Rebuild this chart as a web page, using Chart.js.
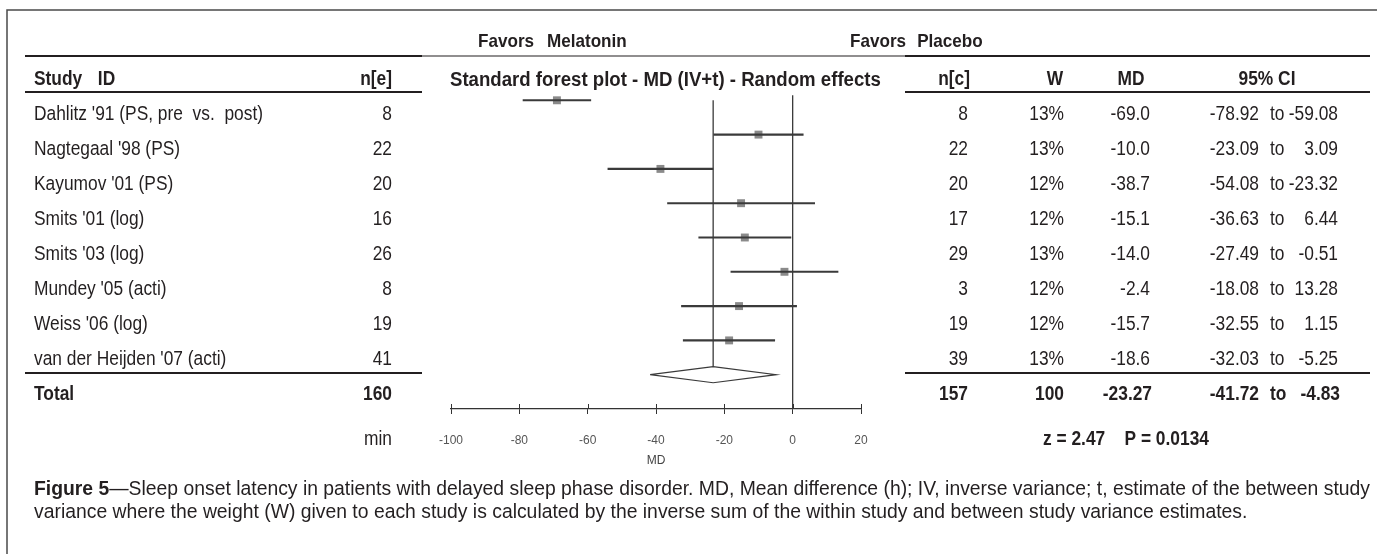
<!DOCTYPE html>
<html><head><meta charset="utf-8">
<script src="https://cdn.jsdelivr.net/npm/chart.js@4.4.1/dist/chart.umd.min.js"></script>
<style>html,body{margin:0;padding:0;background:#fff;} canvas{display:block;}</style>
</head><body>
<canvas id="c" width="1386" height="554"></canvas>
<script>
// ---------- data ----------
const studies = ["Dahlitz '91 (PS, pre  vs.  post)", "Nagtegaal '98 (PS)", "Kayumov '01 (PS)", "Smits '01 (log)", "Smits '03 (log)", "Mundey '05 (acti)", "Weiss '06 (log)", "van der Heijden '07 (acti)"];
const nE = [8, 22, 20, 16, 26, 8, 19, 41];
const nC = [8, 22, 20, 17, 29, 3, 19, 39];
const weights = [13, 13, 12, 12, 13, 12, 12, 13];
const md = [-69.0, -10.0, -38.7, -15.1, -14.0, -2.4, -15.7, -18.6];
const ciLow = [-78.92, -23.09, -54.08, -36.63, -27.49, -18.08, -32.55, -32.03];
const ciHigh = [-59.08, 3.09, -23.32, 6.44, -0.51, 13.28, 1.15, -5.25];
const totalNE = 160, totalNC = 157, totalW = 100;
const pooledMD = -23.27, pooledLow = -41.72, pooledHigh = -4.83;
const zValue = 2.47, pValue = 0.0134;
const xTicks = [-100, -80, -60, -40, -20, 0, 20];

// ---------- helpers ----------
const FONT = "'Liberation Sans', Arial, sans-serif";
const INK = '#231f20';
function drawText(ctx, s, x, y, o) {
  o = o || {};
  const size = o.size || 19.3, sx = o.sx || 0.9;
  ctx.save();
  ctx.translate(x, y);
  ctx.scale(sx, 1);
  ctx.font = (o.bold ? 'bold ' : '') + size + 'px ' + FONT;
  ctx.fillStyle = o.color || INK;
  ctx.textAlign = o.align || 'left';
  ctx.textBaseline = 'middle';
  if (o.ws !== undefined && 'wordSpacing' in ctx) ctx.wordSpacing = o.ws + 'px';
  ctx.fillText(s, 0, 0);
  ctx.restore();
}
function hline(ctx, x1, x2, y, w, c) {
  ctx.save(); ctx.beginPath(); ctx.strokeStyle = c || INK; ctx.lineWidth = w;
  ctx.moveTo(x1, y); ctx.lineTo(x2, y); ctx.stroke(); ctx.restore();
}

const rowY = i => 115 + 35 * i;
const DIAMOND_H = 0.235;
const nRows = studies.length;

const tablePlugin = {
  id: 'table',
  beforeDraw(chart) {
    const ctx = chart.ctx;
    ctx.save(); ctx.fillStyle = '#fff'; ctx.fillRect(0, 0, chart.width, chart.height); ctx.restore();
  },
  afterDraw(chart) {
    const ctx = chart.ctx;
    const xs = chart.scales.x, area = chart.chartArea;
    // frame
    ctx.save(); ctx.strokeStyle = '#4a4a4a'; ctx.lineWidth = 1.5; ctx.beginPath();
    ctx.moveTo(7, 554); ctx.lineTo(7, 10); ctx.lineTo(1377, 10); ctx.stroke(); ctx.restore();
    // upward half of tick marks
    ctx.save(); ctx.strokeStyle = '#333'; ctx.lineWidth = 1; ctx.beginPath();
    xs.ticks.forEach(t => { const px = Math.round(xs.getPixelForValue(t.value)) + 0.5; ctx.moveTo(px, area.bottom - 5); ctx.lineTo(px, area.bottom); });
    ctx.stroke(); ctx.restore();

    // rules
    hline(ctx, 422, 905, 56, 1.2);
    hline(ctx, 25, 422, 56, 2);
    hline(ctx, 905, 1370, 56, 2);
    hline(ctx, 25, 422, 92, 2);
    hline(ctx, 905, 1370, 92, 2);
    hline(ctx, 25, 422, 373, 2);
    hline(ctx, 905, 1370, 373, 2);

    // header
    drawText(ctx, 'Favors Melatonin', 478, 42, {bold: true, size: 19, ws: 9});
    drawText(ctx, 'Favors Placebo', 850, 42, {bold: true, size: 19, ws: 7});
    drawText(ctx, 'Study ID', 34, 80, {bold: true, ws: 12});
    drawText(ctx, 'n[e]', 392, 80, {bold: true, align: 'right'});
    drawText(ctx, 'Standard forest plot - MD (IV+t) - Random effects', 450, 80, {bold: true, size: 20.7});
    drawText(ctx, 'n[c]', 970, 80, {bold: true, align: 'right'});
    drawText(ctx, 'W', 1055, 80, {bold: true, align: 'center'});
    drawText(ctx, 'MD', 1131, 80, {bold: true, align: 'center'});
    drawText(ctx, '95% CI', 1267, 80, {bold: true, align: 'center'});

    // rows
    for (let i = 0; i < nRows; i++) {
      const y = rowY(i);
      drawText(ctx, studies[i], 34, y);
      drawText(ctx, String(nE[i]), 392, y, {align: 'right'});
      drawText(ctx, String(nC[i]), 968, y, {align: 'right'});
      drawText(ctx, weights[i] + '%', 1064, y, {align: 'right'});
      drawText(ctx, md[i].toFixed(1), 1150, y, {align: 'right'});
      drawText(ctx, ciLow[i].toFixed(2), 1259, y, {align: 'right'});
      drawText(ctx, 'to', 1270, y);
      drawText(ctx, ciHigh[i].toFixed(2), 1338, y, {align: 'right'});
    }
    // total
    const ty = rowY(nRows);
    drawText(ctx, 'Total', 34, ty, {bold: true});
    drawText(ctx, String(totalNE), 392, ty, {bold: true, align: 'right'});
    drawText(ctx, String(totalNC), 968, ty, {bold: true, align: 'right'});
    drawText(ctx, String(totalW), 1064, ty, {bold: true, align: 'right'});
    drawText(ctx, pooledMD.toFixed(2), 1152, ty, {bold: true, align: 'right'});
    drawText(ctx, pooledLow.toFixed(2), 1259, ty, {bold: true, align: 'right'});
    drawText(ctx, 'to', 1270, ty, {bold: true});
    drawText(ctx, pooledHigh.toFixed(2), 1340, ty, {bold: true, align: 'right'});

    // axis-line row
    const ay = 440;
    drawText(ctx, 'min', 392, ay, {align: 'right'});
    drawText(ctx, 'z = ' + zValue.toFixed(2) + '    P = ' + pValue.toFixed(4), 1043, ay, {bold: true});

    // caption
    const capSize = 19.3;
    const bold = 'Figure 5';
    const rest1 = '\u2014Sleep onset latency in patients with delayed sleep phase disorder. MD, Mean difference (h); IV, inverse variance; t, estimate of the between study';
    const line2 = 'variance where the weight (W) given to each study is calculated by the inverse sum of the within study and between study variance estimates.';
    ctx.save();
    ctx.font = 'bold ' + capSize + 'px ' + FONT; const wb = ctx.measureText(bold).width;
    ctx.font = capSize + 'px ' + FONT; const wr = ctx.measureText(rest1).width;
    ctx.restore();
    const sx = 1336 / (wb + wr);
    drawText(ctx, bold, 34, 490, {bold: true, size: capSize, sx: sx});
    drawText(ctx, rest1, 34 + wb * sx, 490, {size: capSize, sx: sx});
    drawText(ctx, line2, 34, 513, {size: capSize, sx: sx});
  }
};

// ---------- chart ----------
const ciData = studies.map((s, i) => ({y: i, x: [ciLow[i], ciHigh[i]]}));
const pointData = studies.map((s, i) => ({x: md[i], y: i}));
const diamond = [
  {x: pooledLow, y: nRows}, {x: pooledMD, y: nRows - DIAMOND_H}, {x: pooledHigh, y: nRows},
  {x: pooledMD, y: nRows + DIAMOND_H}, {x: pooledLow, y: nRows}
];

new Chart(document.getElementById('c'), {
  data: {
    datasets: [
      {type: 'bar', indexAxis: 'y', data: ciData, backgroundColor: '#3a3a3a', barThickness: 1.4, borderWidth: 0},
      {type: 'line', data: [{x: 0, y: -0.15}, {x: 0, y: nRows + 1}], borderColor: '#3a3a3a', borderWidth: 1.3, pointRadius: 0, fill: false, tension: 0},
      {type: 'line', data: [{x: pooledMD, y: 0}, {x: pooledMD, y: nRows - DIAMOND_H}], borderColor: '#3a3a3a', borderWidth: 1.3, pointRadius: 0, fill: false, tension: 0},
      {type: 'line', data: diamond, borderColor: '#3a3a3a', borderWidth: 1.2, pointRadius: 0, fill: false, tension: 0, backgroundColor: '#fff'},
      {type: 'scatter', data: pointData, pointStyle: 'rect', pointRadius: 5.6, backgroundColor: '#8a8a8a', borderWidth: 0}
    ]
  },
  options: {
    responsive: false,
    animation: false,
    devicePixelRatio: 1,
    layout: {padding: {left: 451, right: 525, top: 66, bottom: 85}},
    plugins: {legend: {display: false}, tooltip: {enabled: false}},
    scales: {
      x: {
        type: 'linear', min: -100, max: 20, offset: false,
        afterBuildTicks: s => { s.ticks = xTicks.map(v => ({value: v})); },
        afterFit: s => { s.height = 60; },
        grid: {drawOnChartArea: false, drawTicks: true, tickLength: 5, color: '#333', lineWidth: 1, offset: false},
        border: {display: true, color: '#333', width: 1.2},
        ticks: {color: '#555', font: {family: "'Liberation Sans Narrow', 'Liberation Sans', Arial", size: 12}, padding: 19, maxRotation: 0},
        title: {display: true, text: 'MD', color: '#444', font: {family: "'Liberation Sans Narrow', 'Liberation Sans', Arial", size: 12}, padding: {top: 0, bottom: 1}}
      },
      y: {type: 'linear', display: false, min: -1, max: nRows + 1, reverse: true, offset: false, grid: {offset: false}}
    }
  },
  plugins: [tablePlugin]
});
</script>
</body></html>
